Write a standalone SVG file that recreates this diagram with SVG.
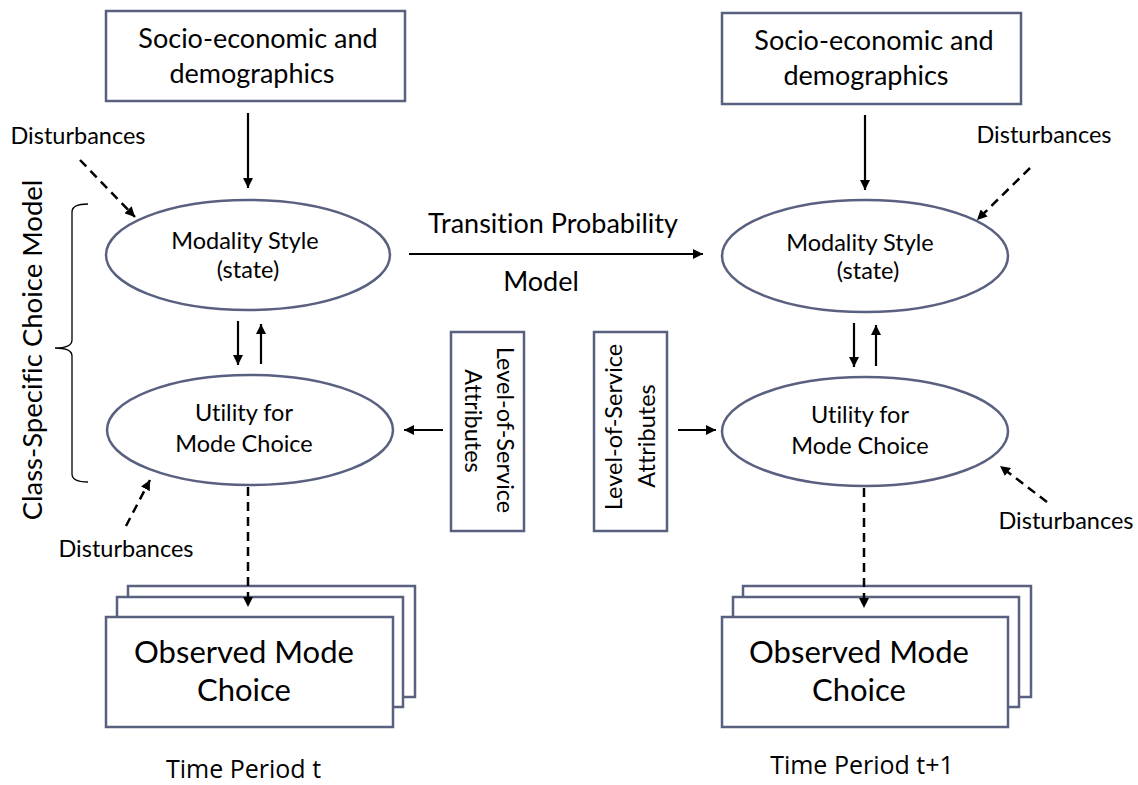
<svg xmlns="http://www.w3.org/2000/svg" width="1138" height="785" viewBox="0 0 1138 785">
<style>
.box{fill:#fff;stroke:#5a607f;stroke-width:2.5}
.t{font-family:Lato,"Open Sans","Liberation Sans",sans-serif;fill:#000;text-anchor:middle;font-variant-ligatures:none}
.big{font-size:27px}
.mid{font-size:23.5px}
.obs{font-size:31px}
.dist{font-size:23.5px}
.los{font-size:23.5px}
.tp{font-family:"Open Sans","Liberation Sans",sans-serif;font-size:25px;fill:#000;text-anchor:middle}
.a{stroke:#000;stroke-width:2.2;fill:none;marker-end:url(#ah)}
.d{stroke:#000;stroke-width:2.5;fill:none;stroke-dasharray:9 6;marker-end:url(#ah)}
.br{stroke:#000;stroke-width:1.3;fill:none}
</style>
<defs>
<marker id="ah" markerUnits="userSpaceOnUse" markerWidth="11" markerHeight="10" refX="10" refY="5" orient="auto">
<path d="M0,0 L10,5 L0,10 z" fill="#000"/>
</marker>
</defs>
<rect width="1138" height="785" fill="#fff"/>

<g id="socio-left">
<rect class="box" x="106" y="11" width="299" height="90"/>
<text class="t big" x="258" y="48">Socio-economic and</text>
<text class="t big" x="252" y="83">demographics</text>
</g>
<g id="socio-right">
<rect class="box" x="722" y="13" width="299" height="91"/>
<text class="t big" x="874" y="50">Socio-economic and</text>
<text class="t big" x="866" y="85">demographics</text>
</g>

<g id="modality-left">
<ellipse class="box" cx="248" cy="255" rx="142" ry="55"/>
<text class="t mid" x="245" y="249">Modality Style</text>
<text class="t mid" x="248" y="278">(state)</text>
</g>
<g id="modality-right">
<ellipse class="box" cx="865" cy="256" rx="143" ry="56"/>
<text class="t mid" x="860" y="251">Modality Style</text>
<text class="t mid" x="868" y="279">(state)</text>
</g>

<g id="transition-label">
<text class="t" style="font-size:27px" x="553" y="233">Transition Probability</text>
<text class="t" style="font-size:27px" x="541" y="291">Model</text>
</g>

<g id="utility-left">
<ellipse class="box" cx="250" cy="430" rx="143" ry="55"/>
<text class="t mid" x="244" y="421">Utility for</text>
<text class="t mid" x="244" y="452">Mode Choice</text>
</g>
<g id="utility-right">
<ellipse class="box" cx="865" cy="431.5" rx="143" ry="54.5"/>
<text class="t mid" x="860" y="423">Utility for</text>
<text class="t mid" x="860" y="454">Mode Choice</text>
</g>

<g id="los-left">
<rect class="box" x="451" y="332" width="73" height="199"/>
<text class="t los" transform="translate(487,431) rotate(90)"><tspan x="-1" y="-10">Level-of-Service</tspan><tspan x="-10" y="22">Attributes</tspan></text>
</g>
<g id="los-right">
<rect class="box" x="594" y="332" width="73" height="199"/>
<text class="t los" transform="translate(630,431) rotate(-90)"><tspan x="4" y="-8">Level-of-Service</tspan><tspan x="-5" y="25">Attributes</tspan></text>
</g>

<g id="observed-left">
<rect class="box" x="128" y="586" width="287" height="111"/>
<rect class="box" x="117" y="597" width="286" height="110"/>
<rect class="box" x="106" y="617" width="287" height="110"/>
<text class="t obs" x="244" y="663">Observed Mode</text>
<text class="t obs" x="244" y="701">Choice</text>
</g>
<g id="observed-right">
<rect class="box" x="743" y="586" width="288" height="111"/>
<rect class="box" x="733" y="597" width="286" height="110"/>
<rect class="box" x="722" y="617" width="286" height="110"/>
<text class="t obs" x="859" y="663">Observed Mode</text>
<text class="t obs" x="859" y="701">Choice</text>
</g>

<g id="class-specific">
<path class="br" d="M88,204 Q72,204 72,212 L72,340 Q72,348 55,348 Q72,348 72,356 L72,474 Q72,482 88,482"/>
<text class="t" style="font-size:27.5px" transform="translate(42,350) rotate(-90)" x="0" y="0">Class-Specific Choice Model</text>
</g>

<g id="disturbances">
<text class="t dist" x="78" y="144">Disturbances</text>
<text class="t dist" x="1044" y="143">Disturbances</text>
<text class="t dist" x="126" y="557">Disturbances</text>
<text class="t dist" x="1066" y="529">Disturbances</text>
</g>

<g id="time-periods">
<text class="tp" x="243.5" y="778">Time Period t</text>
<text class="tp" x="862" y="774">Time Period t+1</text>
</g>

<g id="connectors">
<line class="a" x1="248" y1="113" x2="248" y2="188"/>
<line class="a" x1="865" y1="115" x2="865" y2="190"/>
<line class="a" x1="409" y1="254" x2="703" y2="254"/>
<line class="a" x1="238" y1="321" x2="238" y2="365"/>
<line class="a" x1="261" y1="364" x2="261" y2="324"/>
<line class="a" x1="854" y1="323" x2="854" y2="367"/>
<line class="a" x1="876" y1="366" x2="876" y2="325"/>
<line class="a" x1="443" y1="430" x2="404" y2="430"/>
<line class="a" x1="678" y1="430" x2="716" y2="430"/>
<line class="d" x1="80" y1="160" x2="135" y2="217"/>
<line class="d" x1="1030" y1="168" x2="977" y2="220"/>
<line class="d" x1="126" y1="526" x2="150" y2="480"/>
<line class="d" x1="1047" y1="502" x2="1000" y2="466"/>
<line class="d" x1="248" y1="487" x2="248" y2="607"/>
<line class="d" x1="864" y1="488" x2="864" y2="608"/>
</g>
</svg>
